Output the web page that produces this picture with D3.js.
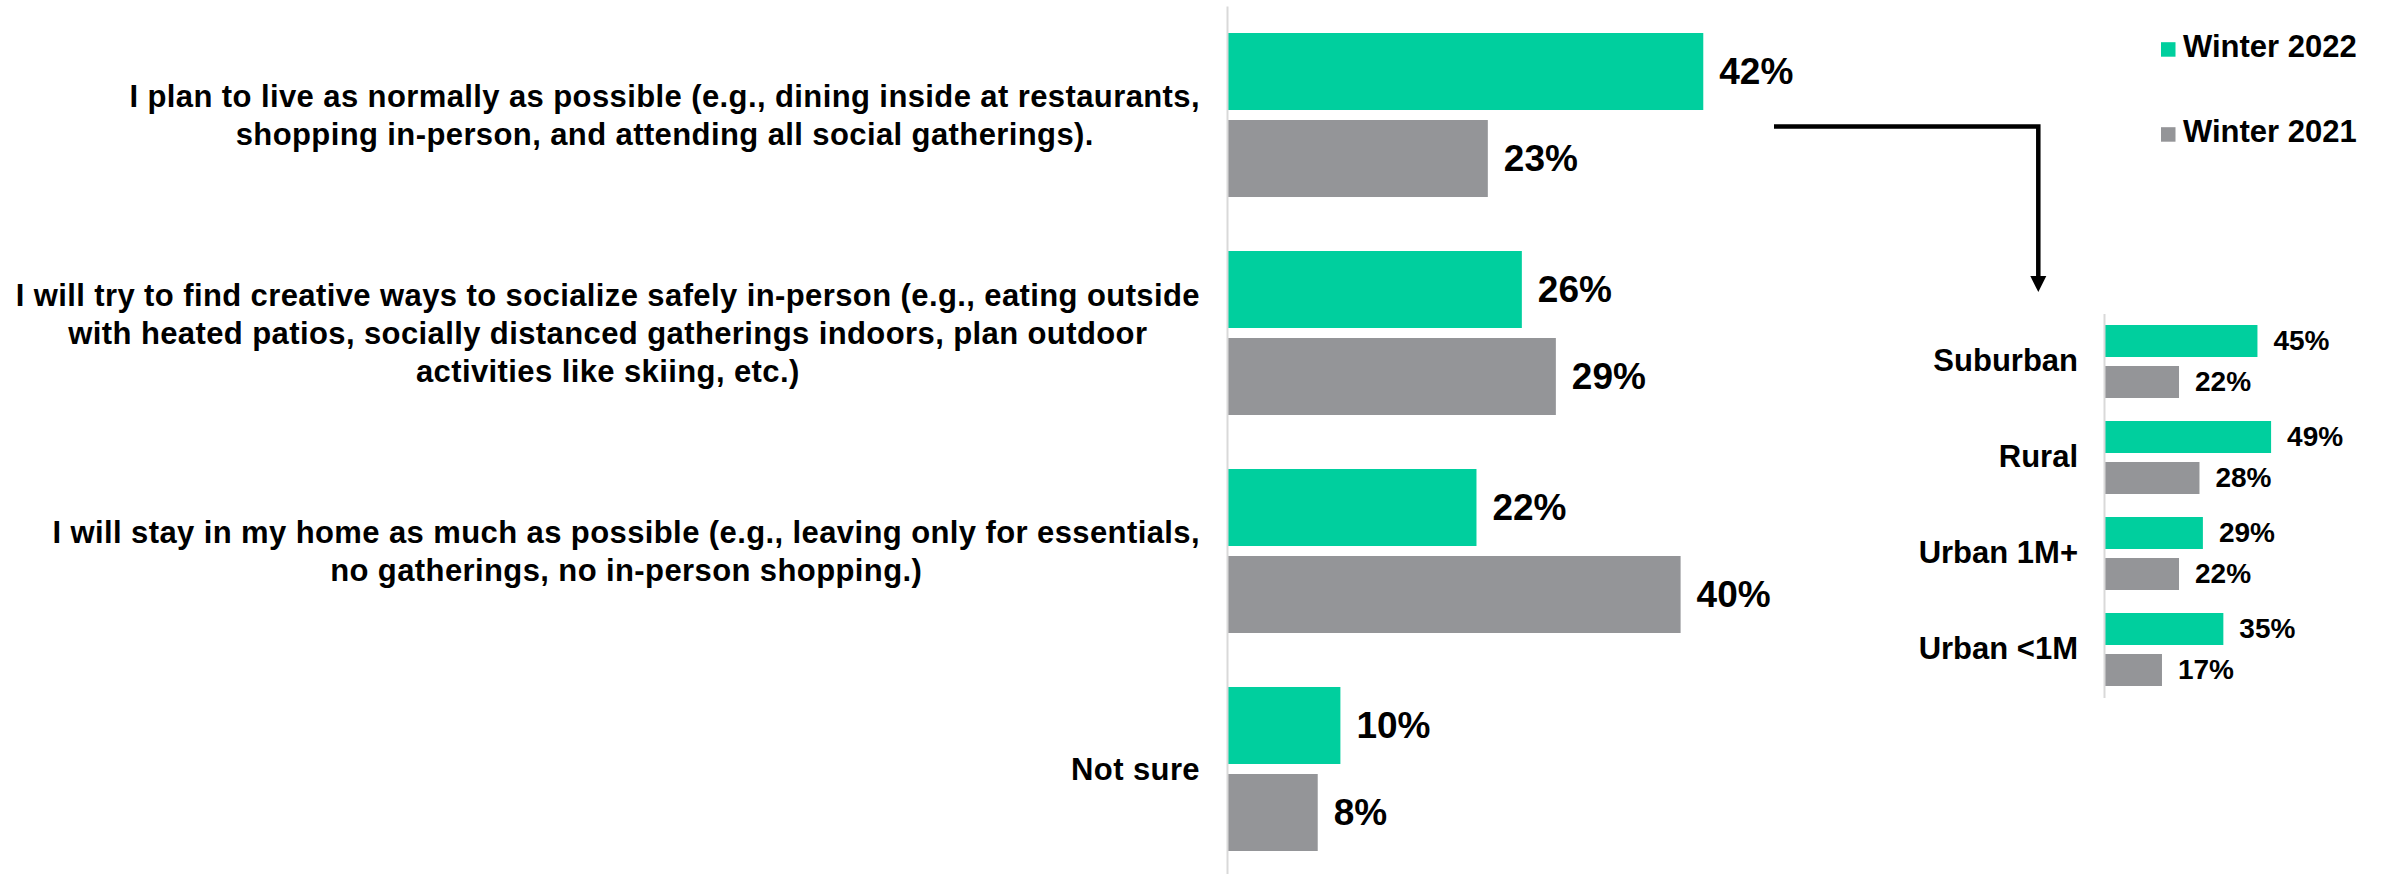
<!DOCTYPE html>
<html>
<head>
<meta charset="utf-8">
<script src="https://cdn.jsdelivr.net/npm/d3@7"></script>
<style>
  html, body { margin: 0; padding: 0; background: #ffffff; }
  svg { display: block; }
  text { font-family: "Liberation Sans", Arial, Helvetica, sans-serif; font-weight: bold; fill: #000; }
</style>
</head>
<body>
<svg id="chart" width="2392" height="874"></svg>
<script>
// Survey answers (multi-line labels) and shares by season
const categories = [
  ["I plan to live as normally as possible (e.g., dining inside at restaurants,",
   "shopping in-person, and attending all social gatherings)."],
  ["I will try to find creative ways to socialize safely in-person (e.g., eating outside",
   "with heated patios, socially distanced gatherings indoors, plan outdoor",
   "activities like skiing, etc.)"],
  ["I will stay in my home as much as possible (e.g., leaving only for essentials,",
   "no gatherings, no in-person shopping.)"],
  ["Not sure"]
];
const winter2022 = [42, 26, 22, 10];
const winter2021 = [23, 29, 40, 8];

// Breakdown of the first answer by area type
const areaTypes = ["Suburban", "Rural", "Urban 1M+", "Urban <1M"];
const area2022 = [45, 49, 29, 35];
const area2021 = [22, 28, 22, 17];

const seriesNames = ["Winter 2022", "Winter 2021"];
const colors = { "Winter 2022": "#00cf9e", "Winter 2021": "#949598" };

const svg = d3.select("#chart");
const fmt = v => v + "%";

// ---------- main chart ----------
const catIdx = categories.map((_, i) => i);
const xMain = d3.scaleLinear().domain([0, 100]).range([1227, 1227 + 1134]);
const yMain = d3.scaleBand().domain(catIdx).range([6, 878])
  .paddingInner(0.2477).paddingOuter(0.1239);
const ySubMain = d3.scaleBand().domain(seriesNames).range([0, yMain.bandwidth()])
  .paddingInner(0.115);

const mainRows = catIdx.map(i => ({
  i,
  values: [
    { key: "Winter 2022", v: winter2022[i] },
    { key: "Winter 2021", v: winter2021[i] }
  ]
}));

const mainG = svg.append("g");
const groups = mainG.selectAll("g.grp").data(mainRows).join("g")
  .attr("class", "grp")
  .attr("transform", d => `translate(0,${yMain(d.i)})`);

groups.selectAll("rect").data(d => d.values).join("rect")
  .attr("x", xMain(0))
  .attr("y", d => ySubMain(d.key))
  .attr("width", d => xMain(d.v) - xMain(0))
  .attr("height", ySubMain.bandwidth())
  .attr("fill", d => colors[d.key]);

groups.selectAll("text.val").data(d => d.values).join("text")
  .attr("class", "val")
  .attr("x", d => xMain(d.v) + 16)
  .attr("y", d => ySubMain(d.key) + ySubMain.bandwidth() / 2)
  .attr("dy", "0.35em")
  .style("font-size", "37px")
  .text(d => fmt(d.v));

// vertical axis line
const axisMain = d3.axisLeft(yMain).tickSize(0).tickSizeOuter(0).tickFormat("");
const axG = mainG.append("g").attr("transform", `translate(${xMain(0)},0)`).call(axisMain);
axG.select(".domain").attr("stroke", "#d9d9d9").attr("stroke-width", 2);

// category labels: centred multi-line blocks, right edge at 1200
const labelRight = 1200;
const lineH = 38;
const labG = mainG.append("g");
categories.forEach((lines, i) => {
  const cy = yMain(i) + yMain.bandwidth() / 2;
  const t = labG.append("text")
    .style("font-size", "31px")
    .style("letter-spacing", "0.4px")
    .attr("text-anchor", "middle");
  const tspans = lines.map((ln, k) =>
    t.append("tspan")
      .attr("y", cy + (k - (lines.length - 1) / 2) * lineH)
      .attr("dy", "0.35em")
      .text(ln));
  const widths = tspans.map(s => s.node().getComputedTextLength());
  const maxW = d3.max(widths);
  tspans.forEach(s => s.attr("x", labelRight - maxW / 2));
});

// ---------- legend ----------
const legend = svg.append("g");
seriesNames.forEach((name, k) => {
  const base = 56.7 + k * 85;
  legend.append("rect")
    .attr("x", 2161).attr("y", base - 14.5)
    .attr("width", 14.5).attr("height", 14.5)
    .attr("fill", colors[name]);
  legend.append("text")
    .attr("x", 2183).attr("y", base)
    .style("font-size", "31px")
    .text(name);
});

// ---------- connector arrow ----------
const arrow = svg.append("g");
arrow.append("path")
  .attr("d", "M1774,126.5 H2038.3 V278")
  .attr("fill", "none").attr("stroke", "#000").attr("stroke-width", 4.5);
arrow.append("path")
  .attr("d", "M2030.3,276 L2046.3,276 L2038.3,292 Z")
  .attr("fill", "#000");

// ---------- inset chart ----------
const areaIdx = areaTypes.map((_, i) => i);
const xIn = d3.scaleLinear().domain([0, 100]).range([2104, 2104 + 341]);
const yIn = d3.scaleBand().domain(areaIdx).range([313.5, 697.5])
  .paddingInner(0.2396).paddingOuter(0.1198);
const ySubIn = d3.scaleBand().domain(seriesNames).range([0, yIn.bandwidth()])
  .paddingInner(0.2195);

const inRows = areaIdx.map(i => ({
  i,
  values: [
    { key: "Winter 2022", v: area2022[i] },
    { key: "Winter 2021", v: area2021[i] }
  ]
}));

const inG = svg.append("g");
const inGroups = inG.selectAll("g.grp").data(inRows).join("g")
  .attr("class", "grp")
  .attr("transform", d => `translate(0,${yIn(d.i)})`);

inGroups.selectAll("rect").data(d => d.values).join("rect")
  .attr("x", xIn(0))
  .attr("y", d => ySubIn(d.key))
  .attr("width", d => xIn(d.v) - xIn(0))
  .attr("height", ySubIn.bandwidth())
  .attr("fill", d => colors[d.key]);

inGroups.selectAll("text.val").data(d => d.values).join("text")
  .attr("class", "val")
  .attr("x", d => xIn(d.v) + 16)
  .attr("y", d => ySubIn(d.key) + ySubIn.bandwidth() / 2)
  .attr("dy", "0.33em")
  .style("font-size", "28px")
  .text(d => fmt(d.v));

const axisIn = d3.axisLeft(yIn).tickSize(0).tickSizeOuter(0).tickPadding(26)
  .tickFormat(i => areaTypes[i]);
const axInG = inG.append("g").attr("transform", `translate(${xIn(0)},0)`).call(axisIn);
axInG.select(".domain").attr("stroke", "#d9d9d9").attr("stroke-width", 2);
axInG.selectAll(".tick text")
  .style("font-size", "31px")
  .style("font-family", "\"Liberation Sans\", Arial, Helvetica, sans-serif")
  .style("font-weight", "bold")
  .attr("fill", "#000");
</script>
</body>
</html>
